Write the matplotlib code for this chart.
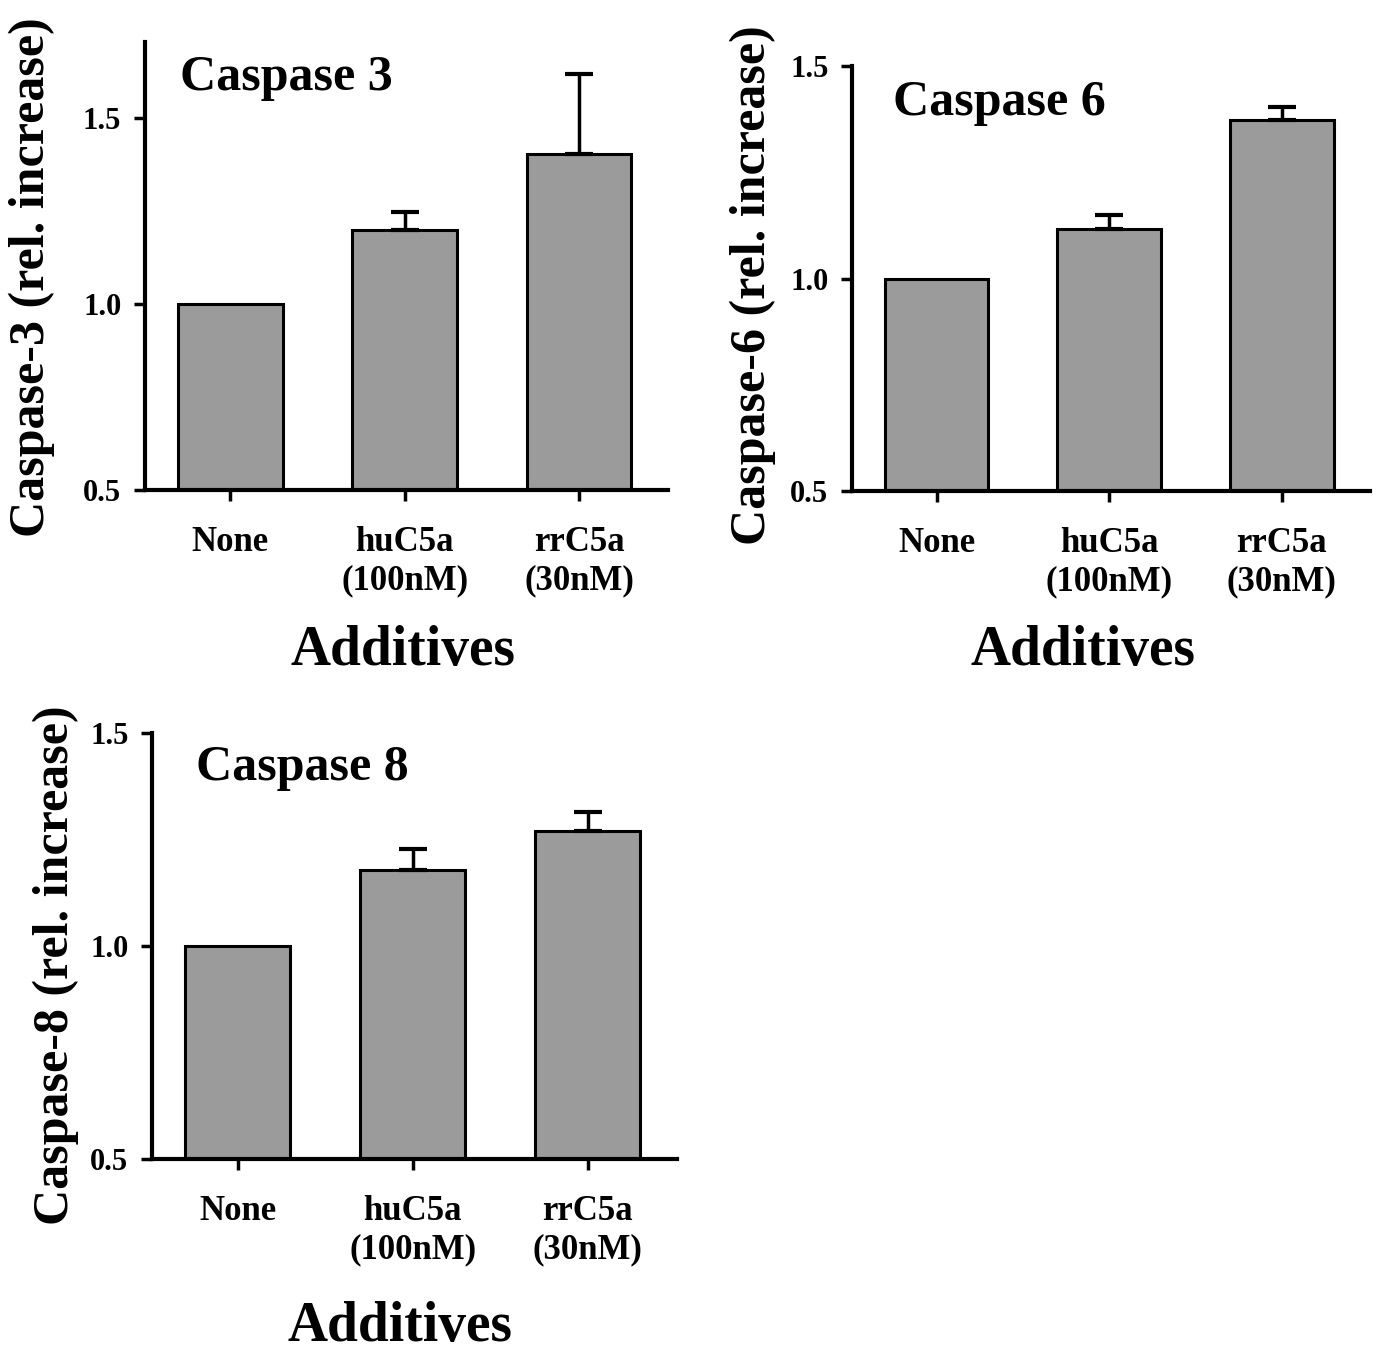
import numpy as np
import matplotlib
matplotlib.use("Agg")
import matplotlib.pyplot as plt

# region Data

categories = ["None", "huC5a\n(100nM)", "rrC5a\n(30nM)"]

casp3_vals = [1.0, 1.20, 1.404]
casp3_errs = [0.0, 0.049, 0.215]

casp6_vals = [1.0, 1.116, 1.372]
casp6_errs = [0.0, 0.034, 0.031]

casp8_vals = [1.0, 1.179, 1.269]
casp8_errs = [0.0, 0.048, 0.046]

titles = ["Caspase 3", "Caspase 6", "Caspase 8"]
ylabels = [
    "Caspase-3 (rel. increase)",
    "Caspase-6 (rel. increase)",
    "Caspase-8 (rel. increase)",
]
yticks = [0.5, 1.0, 1.5]

# endregion

plt.rcParams["font.family"] = ["Liberation Serif", "DejaVu Serif"]
plt.rcParams["font.weight"] = "bold"

bar_color = "#9b9b9b"


def draw_panel(ax, vals, errs, title, ylabel, ylim, title_pos, ylabel_pos, xlabel_pos):
    x = np.arange(len(categories))
    ax.bar(x, vals, width=0.6, color=bar_color, edgecolor="black", linewidth=2.2, zorder=2)

    # upper error bars only, skip the reference bar
    errs = np.asarray(errs)
    mask = errs > 0
    ax.errorbar(
        x[mask],
        np.asarray(vals)[mask],
        yerr=[np.zeros(mask.sum()), errs[mask]],
        fmt="none",
        ecolor="black",
        elinewidth=2.5,
        capsize=10,
        capthick=3,
        zorder=3,
    )

    ax.set_xlim(-0.49, 2.51)
    ax.set_ylim(*ylim)
    ax.set_xticks(x)
    ax.set_xticklabels(categories, fontsize=25, fontweight="bold")
    ax.set_yticks(yticks)
    ax.set_yticklabels([f"{t:.1f}" for t in yticks], fontsize=22, fontweight="bold")

    for side in ["top", "right"]:
        ax.spines[side].set_visible(False)
    for side in ["left", "bottom"]:
        ax.spines[side].set_linewidth(3)
        ax.spines[side].set_zorder(4)

    ax.tick_params(axis="y", direction="out", length=8, width=2.5, pad=9)
    ax.tick_params(axis="x", direction="out", length=8, width=2.5, pad=18)

    ax.text(*title_pos, title, transform=ax.transAxes, fontsize=36,
            fontweight="bold", ha="left", va="center")
    ax.text(*ylabel_pos, ylabel, transform=ax.transAxes, fontsize=36,
            fontweight="bold", rotation=90, ha="center", va="center")
    ax.text(*xlabel_pos, "Additives", transform=ax.transAxes, fontsize=40,
            fontweight="bold", ha="center", va="center")


fig = plt.figure(figsize=(13.82, 13.56), dpi=100)

ax1 = fig.add_axes([0.1049, 0.6386, 0.3785, 0.3304])
ax2 = fig.add_axes([0.6165, 0.6379, 0.3748, 0.3134])
ax3 = fig.add_axes([0.1100, 0.1453, 0.3799, 0.3142])

draw_panel(ax1, casp3_vals, casp3_errs, titles[0], ylabels[0], (0.5, 1.705),
           (0.067, 0.92), (-0.216, 0.475), (0.493, -0.359))
draw_panel(ax2, casp6_vals, casp6_errs, titles[1], ylabels[1], (0.5, 1.5),
           (0.079, 0.913), (-0.191, 0.485), (0.446, -0.376))
draw_panel(ax3, casp8_vals, casp8_errs, titles[2], ylabels[2], (0.5, 1.5),
           (0.084, 0.918), (-0.183, 0.455), (0.472, -0.394))

fig.savefig("out.png", dpi=100, facecolor="white")
